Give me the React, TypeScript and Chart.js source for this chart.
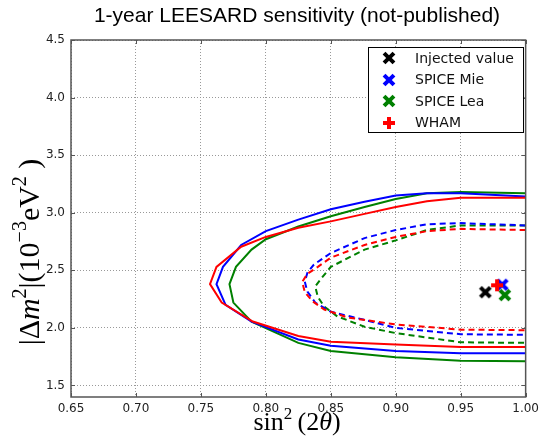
import React, { useEffect, useRef } from "react";
import { Chart, registerables } from "chart.js";

Chart.register(...registerables);

// ---------- data ----------
const TITLE = "1-year LEESARD sensitivity (not-published)";
const X_TICKS = [0.65, 0.7, 0.75, 0.8, 0.85, 0.9, 0.95, 1.0];
const Y_TICKS = [1.5, 2.0, 2.5, 3.0, 3.5, 4.0, 4.5];
const LEGEND_LABELS = ["Injected value", "SPICE Mie", "SPICE Lea", "WHAM"];

// best-fit / injected points [sin^2(2theta), dm^2]
const injectedPoint = [0.969, 2.31];
const spiceMiePoint = [0.982, 2.375];
const spiceLeaPoint = [0.984, 2.285];
const whamPoint = [0.978, 2.37];

// outer (solid) contours
const whamOuter = [
  [1.0, 3.13], [0.95, 3.13], [0.924, 3.1], [0.9, 3.05], [0.876, 2.99], [0.85, 2.925],
  [0.825, 2.87], [0.8, 2.79], [0.781, 2.705], [0.762, 2.53], [0.757, 2.38], [0.766, 2.22],
  [0.79, 2.055], [0.825, 1.93], [0.85, 1.88], [0.9, 1.855], [0.95, 1.835], [1.0, 1.835],
];
const spiceMieOuter = [
  [1.0, 3.14], [0.95, 3.17], [0.924, 3.17], [0.9, 3.15], [0.876, 3.095], [0.85, 3.03],
  [0.825, 2.94], [0.8, 2.84], [0.781, 2.72], [0.767, 2.53], [0.762, 2.38], [0.769, 2.2],
  [0.789, 2.055], [0.825, 1.9], [0.85, 1.845], [0.9, 1.8], [0.95, 1.78], [1.0, 1.78],
];
const spiceLeaOuter = [
  [1.0, 3.17], [0.95, 3.18], [0.924, 3.17], [0.9, 3.12], [0.876, 3.05], [0.85, 2.97],
  [0.825, 2.88], [0.8, 2.77], [0.789, 2.68], [0.777, 2.53], [0.772, 2.38], [0.775, 2.22],
  [0.789, 2.055], [0.825, 1.87], [0.85, 1.8], [0.9, 1.745], [0.95, 1.715], [1.0, 1.71],
];

// inner (dashed) contours
const whamInner = [
  [1.0, 2.85], [0.95, 2.86], [0.924, 2.84], [0.9, 2.79], [0.876, 2.72], [0.85, 2.61],
  [0.84, 2.53], [0.832, 2.47], [0.828, 2.4], [0.83, 2.31], [0.836, 2.23], [0.845, 2.16],
  [0.863, 2.09], [0.9, 2.03], [0.95, 1.985], [1.0, 1.98],
];
const spiceMieInner = [
  [1.0, 2.89], [0.95, 2.91], [0.924, 2.9], [0.9, 2.85], [0.876, 2.78], [0.85, 2.65],
  [0.837, 2.55], [0.832, 2.48], [0.83, 2.4], [0.832, 2.315], [0.838, 2.22], [0.85, 2.14],
  [0.876, 2.07], [0.9, 2.0], [0.95, 1.945], [1.0, 1.94],
];
const spiceLeaInner = [
  [1.0, 2.89], [0.95, 2.89], [0.924, 2.85], [0.9, 2.76], [0.876, 2.68], [0.85, 2.53],
  [0.842, 2.42], [0.838, 2.36], [0.84, 2.27], [0.845, 2.185], [0.855, 2.1], [0.876, 2.01],
  [0.9, 1.955], [0.95, 1.875], [1.0, 1.87],
];

// ---------- helpers ----------
const RED = "#ff0000";
const BLUE = "#0000ff";
const GREEN = "#008000";
const BLACK = "#000000";

function makeMarker(color: string, rotated: boolean): HTMLCanvasElement {
  const c = document.createElement("canvas");
  c.width = 16;
  c.height = 16;
  const g = c.getContext("2d")!;
  g.translate(8, 8);
  if (rotated) g.rotate(Math.PI / 4);
  const s = rotated ? 7 : 6;
  const w = 2;
  g.beginPath();
  const pts = [
    [-w, -s], [w, -s], [w, -w], [s, -w], [s, w], [w, w],
    [w, s], [-w, s], [-w, w], [-s, w], [-s, -w], [-w, -w],
  ];
  pts.forEach(([px, py], i) => (i ? g.lineTo(px, py) : g.moveTo(px, py)));
  g.closePath();
  g.fillStyle = color;
  g.fill();
  return c;
}

const toXY = (arr: number[][]) => arr.map(([x, y]) => ({ x, y }));

type Part = { t: string; size: number; dy?: number; italic?: boolean };

function drawRich(ctx: CanvasRenderingContext2D, parts: Part[], family: string) {
  let total = 0;
  const widths = parts.map((p) => {
    ctx.font = `${p.italic ? "italic " : ""}${p.size}px ${family}`;
    const w = ctx.measureText(p.t).width;
    total += w;
    return w;
  });
  let x = -total / 2;
  parts.forEach((p, i) => {
    ctx.font = `${p.italic ? "italic " : ""}${p.size}px ${family}`;
    ctx.fillText(p.t, x, p.dy || 0);
    x += widths[i];
  });
}

export default function App() {
  const ref = useRef<HTMLCanvasElement>(null);

  useEffect(() => {
    const mk = {
      black: makeMarker(BLACK, true),
      blue: makeMarker(BLUE, true),
      green: makeMarker(GREEN, true),
      red: makeMarker(RED, false),
    };
    const legendMarkers = [mk.black, mk.blue, mk.green, mk.red];

    const deco = {
      id: "deco",
      afterDatasetsDraw(chart: any) {
        const { ctx, chartArea: a, scales } = chart;
        const xs = scales.x;
        const ys = scales.y;
        ctx.save();
        // frame
        ctx.strokeStyle = "#555";
        ctx.lineWidth = 1.5;
        ctx.setLineDash([]);
        ctx.strokeRect(a.left, a.top, a.right - a.left, a.bottom - a.top);
        // inward ticks
        ctx.lineWidth = 1;
        ctx.beginPath();
        X_TICKS.forEach((v) => {
          const px = Math.round(xs.getPixelForValue(v)) + 0.5;
          ctx.moveTo(px, a.bottom);
          ctx.lineTo(px, a.bottom - 4);
          ctx.moveTo(px, a.top);
          ctx.lineTo(px, a.top + 4);
        });
        Y_TICKS.forEach((v) => {
          const py = Math.round(ys.getPixelForValue(v)) + 0.5;
          ctx.moveTo(a.left, py);
          ctx.lineTo(a.left + 4, py);
          ctx.moveTo(a.right, py);
          ctx.lineTo(a.right - 4, py);
        });
        ctx.stroke();

        // legend
        const lx = 368.5, ly = 47.5, lw = 155, lh = 85;
        ctx.fillStyle = "#fff";
        ctx.fillRect(lx, ly, lw, lh);
        ctx.strokeStyle = "#000";
        ctx.lineWidth = 1;
        ctx.strokeRect(lx, ly, lw, lh);
        ctx.font = '14px "DejaVu Sans"';
        ctx.textBaseline = "middle";
        ctx.textAlign = "left";
        ctx.fillStyle = "#111";
        LEGEND_LABELS.forEach((lab, i) => {
          const yy = 58 + i * 21.5;
          ctx.drawImage(legendMarkers[i], 389 - 8, Math.round(yy) - 8);
          ctx.fillText(lab, 415, yy + 1);
        });

        // title
        ctx.fillStyle = "#000";
        ctx.textAlign = "center";
        ctx.textBaseline = "alphabetic";
        ctx.font = '21px "Liberation Sans"';
        ctx.fillText(TITLE, 297, 22);

        // x label: sin^2(2θ)
        ctx.save();
        ctx.translate(297, 430);
        ctx.textAlign = "left";
        drawRich(
          ctx,
          [
            { t: "sin", size: 26 },
            { t: "2", size: 17, dy: -11 },
            { t: "\u2009(2", size: 26 },
            { t: "θ", size: 26, italic: true },
            { t: ")", size: 26 },
          ],
          '"Liberation Serif"'
        );
        ctx.restore();

        // y label: |Δm²|(10⁻³eV²)
        ctx.save();
        ctx.translate(39, 252);
        ctx.rotate(-Math.PI / 2);
        ctx.textAlign = "left";
        drawRich(
          ctx,
          [
            { t: "|Δ", size: 30 },
            { t: "m", size: 30, italic: true },
            { t: "2", size: 20, dy: -13 },
            { t: "|(10", size: 30 },
            { t: "−3", size: 20, dy: -13 },
            { t: "eV", size: 30 },
            { t: "2", size: 20, dy: -13 },
            { t: " )", size: 30 },
          ],
          '"Liberation Serif"'
        );
        ctx.restore();
        ctx.restore();
      },
    };

    const lineDs = (data: number[][], color: string, dashed: boolean) => ({
      type: "scatter" as const,
      data: toXY(data),
      showLine: true,
      borderColor: color,
      borderWidth: 2,
      borderDash: dashed ? [6, 4] : [],
      pointRadius: 0,
      tension: 0,
      fill: false,
    });

    const ptDs = (p: number[], img: HTMLCanvasElement) => ({
      type: "scatter" as const,
      data: [{ x: p[0], y: p[1] }],
      pointStyle: img,
      pointRadius: 7,
      showLine: false,
    });

    const chart = new Chart(ref.current!, {
      type: "scatter",
      data: {
        datasets: [
          ptDs(whamPoint, mk.red),
          ptDs(spiceLeaPoint, mk.green),
          ptDs(spiceMiePoint, mk.blue),
          ptDs(injectedPoint, mk.black),
          lineDs(whamOuter, RED, false),
          lineDs(spiceMieOuter, BLUE, false),
          lineDs(spiceLeaOuter, GREEN, false),
          lineDs(whamInner, RED, true),
          lineDs(spiceMieInner, BLUE, true),
          lineDs(spiceLeaInner, GREEN, true),
        ] as any,
      },
      options: {
        responsive: false,
        animation: false,
        layout: { padding: { left: 0, right: 14, top: 40, bottom: 0 } },
        plugins: {
          legend: { display: false },
          tooltip: { enabled: false },
          title: { display: false },
        },
        scales: {
          x: {
            type: "linear",
            min: 0.65,
            max: 1.0,
            afterFit: (s: any) => {
              s.height = 46;
            },
            afterBuildTicks: (s: any) => {
              s.ticks = X_TICKS.map((v) => ({ value: v }));
            },
            ticks: {
              callback: (v: any) => Number(v).toFixed(2),
              font: { family: "DejaVu Sans", size: 12 },
              color: "#222",
              padding: 5,
              maxRotation: 0,
              autoSkip: false,
            },
            grid: { color: "#999", lineWidth: 1, drawTicks: false },
            border: { display: false, dash: [1, 2] },
          },
          y: {
            type: "linear",
            min: 1.4,
            max: 4.5,
            afterFit: (s: any) => {
              s.width = 71;
            },
            afterBuildTicks: (s: any) => {
              s.ticks = Y_TICKS.map((v) => ({ value: v }));
            },
            ticks: {
              callback: (v: any) => Number(v).toFixed(1),
              font: { family: "DejaVu Sans", size: 12 },
              color: "#222",
              padding: 6,
              autoSkip: false,
            },
            grid: { color: "#999", lineWidth: 1, drawTicks: false },
            border: { display: false, dash: [1, 2] },
          },
        },
      } as any,
      plugins: [deco],
    });
    return () => chart.destroy();
  }, []);

  return (
    <div style={{ position: "fixed", left: 0, top: 0, width: 544, height: 443, background: "#fff" }}>
      <canvas ref={ref} width={544} height={443} style={{ display: "block", width: 544, height: 443 }} />
    </div>
  );
}
